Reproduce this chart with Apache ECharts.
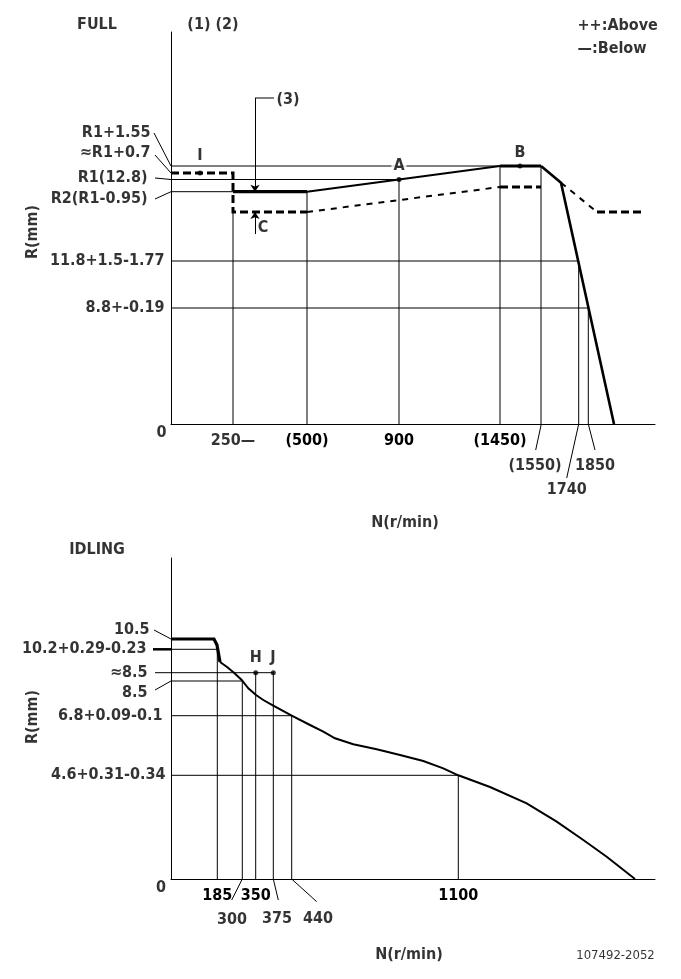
<!DOCTYPE html>
<html><head><meta charset="utf-8">
<script src="https://cdn.jsdelivr.net/npm/echarts@6/dist/echarts.min.js"></script>
<style>html,body{margin:0;padding:0;background:#fff}#c{width:681px;height:979px}</style>
</head><body><div id="c"></div>
<script>
// ===== DATA (schematic diagram units, x = speed position, y = rack position) =====
// ---- FULL chart ----
const fullXTickLabels = ['(500)', '900', '(1450)'];
const fullXTickPos = [136, 228, 329];
const fullSolidFlatLow = [[62, 232.3], [136, 232.3]];
const fullSolidRise = [[136, 232.3], [228, 244.5], [329, 258]];
const fullSolidFlatB = [[329, 258], [370, 258]];
const fullSolidDrop = [[370, 258], [390, 241.3], [443, 0]];
const fullDashUpper = [[0, 251], [62, 251], [62, 212], [136, 212]];
const fullDashRise = [[136, 212], [329, 237]];
const fullDashFlatB = [[329, 237], [370, 237]];
const fullDashDrop = [[390, 241.3], [426, 212]];
const fullDashTail = [[426, 212], [471, 212]];
const fullPoints = [[29, 251], [228, 244.5], [349, 258]];      // I, A, B
const fullGuides = [
  [[0, 258], [329, 258]],
  [[0, 244.5], [228, 244.5]],
  [[0, 232.3], [62, 232.3]],
  [[0, 163], [407.7, 163]],
  [[0, 116], [417.3, 116]],
  [[62, 0], [62, 212]],
  [[136, 0], [136, 232.3]],
  [[228, 0], [228, 244.5]],
  [[329, 0], [329, 258]],
  [[370, 0], [370, 258]],
  [[407.7, 0], [407.7, 163]],
  [[417.3, 0], [417.3, 116]]
];
const fullLeaders = [
  [[-17, 291], [0, 258]],
  [[-16, 269], [0, 251]],
  [[-16, 246], [0, 244.5]],
  [[-16, 225], [0, 232.3]],
  [[370.3, 0], [364.7, -26]],
  [[417.3, 0], [424, -26]],
  [[407.7, 0], [395.7, -54]],
  [[84, 326], [103, 326]]
];
const fullArrows = [
  [[84, 326], [84, 232.3]],
  [[84, 190], [84, 212]]
];

// ---- IDLING chart ----
const idleXTickLabels = ['185', '350', '1100'];
const idleXTickPos = [46.3, 84.7, 287.3];
const idleCurveHeavy = [[0, 240], [43, 240], [46, 234], [49, 217]];
const idleCurve = [[49, 217], [55.7, 212.3], [63, 206.3], [70.7, 199], [77.3, 190.7], [85, 184],
  [92.3, 179], [102.3, 173.3], [120.7, 163.3], [139, 154], [152.3, 147.3], [164, 140.7],
  [182.3, 134.7], [205.7, 129.7], [229, 124], [252.3, 118], [272.3, 110.7], [287.3, 103.7],
  [319, 92], [355.7, 75.7], [385.7, 57.3], [412.3, 39], [435.7, 22.3], [464, 0]];
const idlePoints = [[84.7, 206.3], [102.3, 206.3]];             // H, J
const idleGuides = [
  [[0, 229.7], [46.3, 229.7]],
  [[-16, 206.3], [102.3, 206.3]],
  [[0, 198], [71.3, 198]],
  [[0, 163.3], [120.7, 163.3]],
  [[0, 103.7], [287.3, 103.7]],
  [[46.3, 0], [46.3, 229.7]],
  [[71.3, 0], [71.3, 198]],
  [[84.7, 0], [84.7, 206.3]],
  [[102.3, 0], [102.3, 206.3]],
  [[120.7, 0], [120.7, 163.3]],
  [[287.3, 0], [287.3, 103.7]]
];
const idleLeaders = [
  [[-17, 249], [0, 240]],
  [[-16, 189], [0, 198]],
  [[71.3, 0], [60.7, -21]],
  [[102.3, 0], [107.3, -21]],
  [[120.7, 0], [145.7, -22.7]]
];
const idleHeavyLeader = [[[-18, 229.7], [0, 229.7]]];

// ---- texts ----
const fullTexts = [
  {t: 'FULL', p: [-74, 399]},
  {t: '(1) (2)', p: [42, 399]},
  {t: '++:Above', p: [406, 398], a: 'l'},
  {t: '\u2014:Below', p: [406, 375], a: 'l'},
  {t: '(3)', p: [117, 324]},
  {t: 'R1+1.55', p: [-20, 291], a: 'r'},
  {t: '\u2248R1+0.7', p: [-20, 271], a: 'r'},
  {t: 'R1(12.8)', p: [-23, 246], a: 'r'},
  {t: 'R2(R1-0.95)', p: [-23, 225], a: 'r'},
  {t: '11.8+1.5-1.77', p: [-6, 163], a: 'r'},
  {t: '8.8+-0.19', p: [-6, 116], a: 'r'},
  {t: '0', p: [-9.5, -9]},
  {t: '250\u2014', p: [62, -16.7]},
  {t: '(1550)', p: [364, -41.7]},
  {t: '1850', p: [424, -41.7]},
  {t: '1740', p: [395.7, -66]},
  {t: 'N(r/min)', p: [234, -99]},
  {t: 'I', p: [29, 268]},
  {t: 'A', p: [228, 258], bg: true},
  {t: 'B', p: [349, 271]},
  {t: 'C', p: [92, 196]},
  {t: 'R(mm)', p: [-138, 192], rot: 90}
];
const idleTexts = [
  {t: 'IDLING', p: [-74, 329]},
  {t: '10.5', p: [-21, 249], a: 'r'},
  {t: '10.2+0.29-0.23', p: [-24, 230], a: 'r'},
  {t: '\u22488.5', p: [-23, 206.3], a: 'r'},
  {t: '8.5', p: [-23, 186], a: 'r'},
  {t: '6.8+0.09-0.1', p: [-8, 163.5], a: 'r'},
  {t: '4.6+0.31-0.34', p: [-5, 103.7], a: 'r'},
  {t: '0', p: [-10, -9]},
  {t: '300', p: [61, -41]},
  {t: '375', p: [106, -40]},
  {t: '440', p: [147, -40]},
  {t: 'H', p: [84.7, 221]},
  {t: 'J', p: [102, 221]},
  {t: 'N(r/min)', p: [238, -76]},
  {t: '107492-2052', p: [444.5, -77], size: 13, w: 'normal'},
  {t: 'R(mm)', p: [-138, 162], rot: 90}
];

// ===== CHART =====
const FONT = "'DejaVu Sans Condensed','DejaVu Sans',sans-serif";

function lines(g, segs, style, extra) {
  return Object.assign({
    type: 'lines', coordinateSystem: 'cartesian2d', xAxisIndex: g, yAxisIndex: g,
    polyline: true, clip: false, silent: true, z: 3,
    lineStyle: Object.assign({color: '#000', opacity: 1, width: 1, curveness: 0}, style),
    data: segs.map(c => ({coords: c}))
  }, extra || {});
}
function texts(g, items) {
  return {
    type: 'scatter', xAxisIndex: g, yAxisIndex: g, clip: false, silent: true, z: 6,
    symbolSize: 1, itemStyle: {color: 'rgba(0,0,0,0)'},
    data: items.map(it => ({
      value: it.p,
      label: {
        show: true, formatter: it.t,
        position: it.a === 'r' ? 'left' : (it.a === 'l' ? 'right' : 'inside'),
        distance: 0, rotate: it.rot || 0,
        color: '#000', fontFamily: FONT, fontWeight: it.w || 'bold', fontSize: it.size || 16,
        backgroundColor: it.bg ? '#fff' : 'transparent', padding: it.bg ? [0, 2] : 0
      }
    }))
  };
}
function points(g, pts) {
  return {type: 'scatter', xAxisIndex: g, yAxisIndex: g, clip: false, silent: true, z: 5,
    symbol: 'circle', symbolSize: 5, itemStyle: {color: '#000'}, data: pts};
}
function xAx(g, pos, labs) {
  return {
    gridIndex: g, type: 'value', min: 0, max: 484,
    axisLine: {show: true, onZero: false, lineStyle: {color: '#000', width: 1}},
    axisTick: {show: false}, splitLine: {show: false},
    axisLabel: {
      customValues: pos, margin: 9, color: '#000', fontFamily: FONT, fontWeight: 'bold', fontSize: 16,
      formatter: v => { const i = pos.findIndex(p => Math.abs(p - v) < 0.01); return i >= 0 ? labs[i] : ''; }
    }
  };
}
function yAx(g, max) {
  return {
    gridIndex: g, type: 'value', min: 0, max: max,
    axisLine: {show: true, onZero: false, lineStyle: {color: '#000', width: 1}},
    axisTick: {show: false}, splitLine: {show: false}, axisLabel: {show: false}
  };
}

const chart = echarts.init(document.getElementById('c'), null, {renderer: 'canvas'});
chart.setOption({
  animation: false,
  backgroundColor: '#fff',
  grid: [
    {left: 171, top: 32, width: 484, height: 392},
    {left: 171, top: 558, width: 484, height: 321}
  ],
  xAxis: [xAx(0, fullXTickPos, fullXTickLabels), xAx(1, idleXTickPos, idleXTickLabels)],
  yAxis: [yAx(0, 392), yAx(1, 321)],
  series: [
    // FULL
    lines(0, fullGuides, {width: 1}),
    lines(0, fullLeaders, {width: 1}),
    lines(0, fullArrows, {width: 1}, {polyline: false, symbol: ['none', 'arrow'], symbolSize: 7}),
    lines(0, [fullSolidRise], {width: 2}, {z: 4}),
    lines(0, [fullSolidFlatLow, fullSolidFlatB], {width: 3.2}, {z: 4}),
    lines(0, [fullSolidDrop], {width: 2.6}, {z: 4}),
    lines(0, [fullDashUpper, fullDashFlatB, fullDashTail], {width: 3, type: [8, 4]}, {z: 4}),
    lines(0, [fullDashRise, fullDashDrop], {width: 2, type: [6, 6]}, {z: 4}),
    points(0, fullPoints),
    texts(0, fullTexts),
    // IDLING
    lines(1, idleGuides, {width: 1}),
    lines(1, idleLeaders, {width: 1}),
    lines(1, idleHeavyLeader, {width: 2.5}),
    lines(1, [idleCurveHeavy], {width: 3.2}, {z: 4}),
    lines(1, [idleCurve], {width: 2}, {z: 4}),
    points(1, idlePoints),
    texts(1, idleTexts)
  ]
});
</script>
</body></html>
